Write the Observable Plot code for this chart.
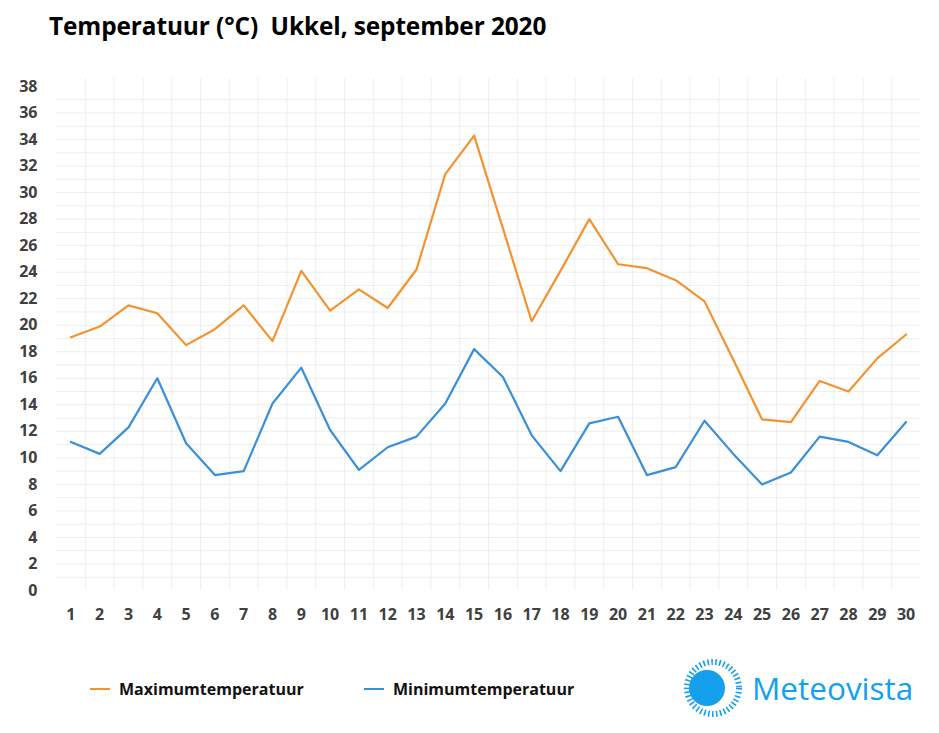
<!DOCTYPE html>
<html>
<head>
<meta charset="utf-8">
<script src="https://cdn.jsdelivr.net/npm/d3@7"></script>
<script src="https://cdn.jsdelivr.net/npm/@observablehq/plot@0.6"></script>
<style>
  html, body { margin: 0; padding: 0; background: #fff; }
  #wrap { position: relative; width: 939px; height: 733px; overflow: hidden; font-family: "Open Sans", sans-serif; }
  #title { position: absolute; left: 49px; top: 9px; font-size: 24.4px; font-weight: 700; color: #000; white-space: pre; letter-spacing: -0.1px; }
  #chart { position: absolute; left: 0; top: 0; }
  .leg { position: absolute; top: 678px; font-size: 16px; font-weight: 700; color: #111; display: flex; align-items: center; }
  .sw { display: inline-block; width: 20px; height: 2px; margin-right: 9px; }
  #logo { position: absolute; left: 680px; top: 655px; }
</style>
</head>
<body>
<div id="wrap">
  <div id="chart"></div>
  <div id="title">Temperatuur (°C)  Ukkel, september 2020</div>
  <div class="leg" style="left:90px"><span class="sw" style="background:#f4922f"></span>Maximumtemperatuur</div>
  <div class="leg" style="left:364px"><span class="sw" style="background:#3a8fdb"></span>Minimumtemperatuur</div>
  <svg id="logo" width="250" height="70" viewBox="0 0 250 70">
    <circle cx="33" cy="33" r="26" fill="none" stroke="#14a0ec" stroke-width="6" stroke-dasharray="1.6 2.4"/>
    <circle cx="27" cy="33" r="18" fill="#14a0ec"/>
    <text x="72" y="45" font-family="Open Sans" font-size="31.5" fill="#14a0ec">Meteovista</text>
  </svg>
</div>
<script>
const days = [1,2,3,4,5,6,7,8,9,10,11,12,13,14,15,16,17,18,19,20,21,22,23,24,25,26,27,28,29,30];
const tMax = [19.1,19.9,21.5,20.9,18.5,19.7,21.5,18.8,24.1,21.1,22.7,21.3,24.2,31.4,34.3,27.3,20.3,24.1,28.0,24.6,24.3,23.4,21.8,17.4,12.9,12.7,15.8,15.0,17.5,19.3];
const tMin = [11.2,10.3,12.3,16.0,11.1,8.7,9.0,14.1,16.8,12.1,9.1,10.8,11.6,14.1,18.2,16.1,11.7,9.0,12.6,13.1,8.7,9.3,12.8,10.3,8.0,8.9,11.6,11.2,10.2,12.7];
const yTicks = [0,2,4,6,8,10,12,14,16,18,20,22,24,26,28,30,32,34,36,38];
const seriesNames = ["Maximumtemperatuur", "Minimumtemperatuur"];

const maxData = days.map((d, i) => ({day: d, t: tMax[i]}));
const minData = days.map((d, i) => ({day: d, t: tMin[i]}));
const gridY = d3.range(1, 38);
const gridX = days.slice(1).map(d => d - 0.5);

const chart = Plot.plot({
  width: 939,
  height: 640,
  marginLeft: 56,
  marginRight: 19,
  marginTop: 86,
  marginBottom: 50,
  x: {domain: [0.5, 30.5], ticks: days, tickSize: 0, tickPadding: 18, tickFormat: d => String(d), label: null},
  y: {domain: [0, 38], ticks: yTicks, tickSize: 0, tickPadding: 19, label: null},
  style: {fontFamily: "Open Sans", fontSize: "16px", fontWeight: 700, color: "#404040", background: "transparent", overflow: "visible"},
  marks: [
    Plot.ruleY(gridY, {stroke: "#eeeeee", strokeWidth: 1}),
    Plot.ruleX(gridX, {y1: 0, y2: 38.6, stroke: "#eeeeee", strokeWidth: 1}),
    Plot.line(maxData, {x: "day", y: "t", stroke: "#f4922f", strokeWidth: 2.2}),
    Plot.line(minData, {x: "day", y: "t", stroke: "#3a8fdb", strokeWidth: 2.2})
  ]
});
document.getElementById("chart").appendChild(chart);
</script>
</body>
</html>
